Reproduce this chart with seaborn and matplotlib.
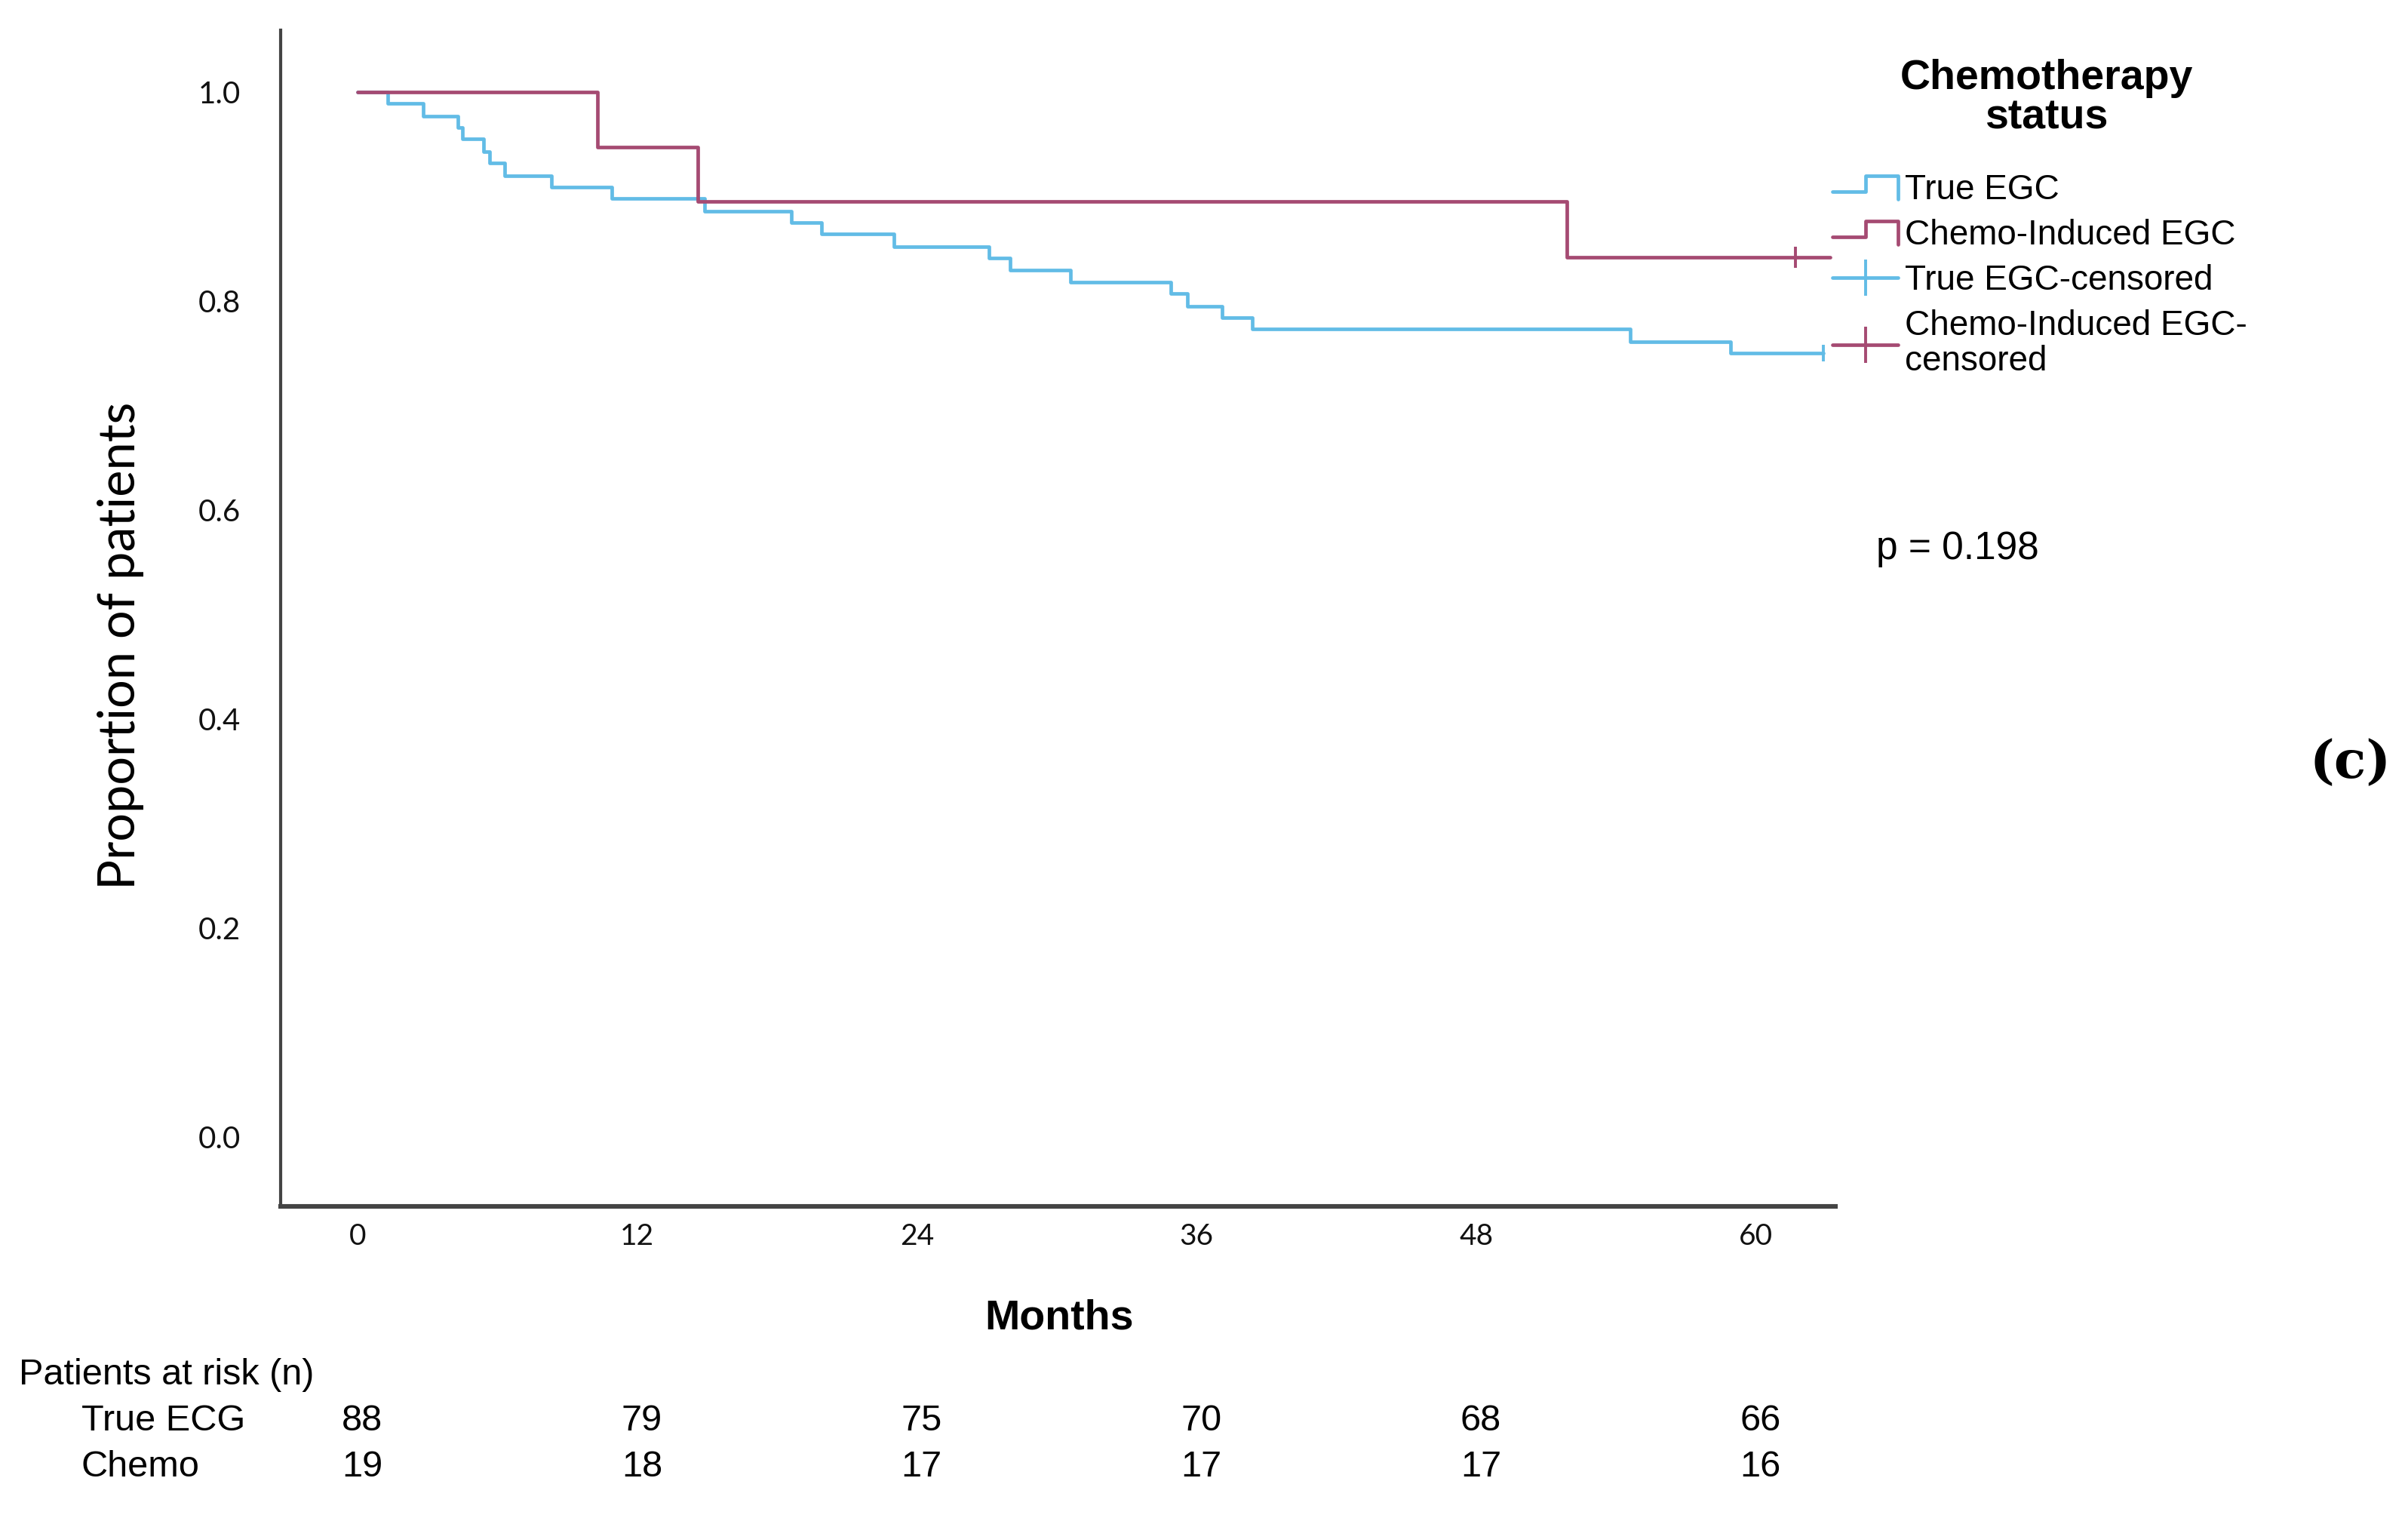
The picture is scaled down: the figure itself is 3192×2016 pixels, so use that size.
import numpy as np
import pandas as pd
import seaborn as sns
import matplotlib
matplotlib.use("Agg")
import matplotlib.pyplot as plt
from matplotlib.lines import Line2D
from matplotlib.legend_handler import HandlerBase
from matplotlib.transforms import blended_transform_factory

# Kaplan-Meier steps (months, proportion)
true_times = [0, 1.3, 2.8, 4.3, 4.5, 5.4, 5.65, 6.3, 8.3, 10.9, 14.9, 18.6,
              19.9, 23.0, 27.1, 28.0, 30.6, 34.9, 35.6, 37.1, 38.4, 54.6, 58.9, 62.9]
true_surv = [1.000, 0.989, 0.977, 0.966, 0.955, 0.943, 0.932, 0.920, 0.909, 0.898, 0.886, 0.875,
             0.864, 0.852, 0.841, 0.830, 0.818, 0.807, 0.795, 0.784, 0.773, 0.761, 0.750, 0.750]
chemo_times = [0, 10.3, 14.6, 51.9, 63.2]
chemo_surv = [1.000, 0.947, 0.895, 0.842, 0.842]

true_cens_t = [62.9]
true_cens_s = [0.750]
chemo_cens_t = [61.7]
chemo_cens_s = [0.842]

month_ticks = [0, 12, 24, 36, 48, 60]
y_ticks = [0.0, 0.2, 0.4, 0.6, 0.8, 1.0]
risk_true = [88, 79, 75, 70, 68, 66]
risk_chemo = [19, 18, 17, 17, 17, 16]

groups = ["True EGC", "Chemo-Induced EGC"]
blue = "#62bce6"
maroon = "#a54a72"

df = pd.concat([
    pd.DataFrame({"t": true_times, "s": true_surv, "g": groups[0]}),
    pd.DataFrame({"t": chemo_times, "s": chemo_surv, "g": groups[1]}),
])

sns.set_theme(style="white")
plt.rcParams["font.family"] = ["Liberation Sans", "DejaVu Sans"]
plt.rcParams["text.color"] = "black"
plt.rcParams["axes.labelcolor"] = "black"

fig = plt.figure(figsize=(15.96, 10.08), dpi=200)
ax = fig.add_axes([0.1166, 0.207, 0.7621 - 0.1166, 0.980 - 0.207])

sns.lineplot(data=df, x="t", y="s", hue="g", palette=[blue, maroon],
             estimator=None, sort=False, drawstyle="steps-post",
             linewidth=1.7, legend=False, ax=ax)
ax.plot(true_cens_t, true_cens_s, ls="none", marker="|", ms=8, mew=1.4, color=blue)
ax.plot(chemo_cens_t, chemo_cens_s, ls="none", marker="|", ms=10, mew=1.4, color=maroon)

ax.set_xlim(-3.3, 63.4)
ax.set_ylim(-0.066, 1.059)
ax.set_xticks(month_ticks)
ax.set_yticks(y_ticks)
ax.set_xticklabels([str(m) for m in month_ticks], fontfamily="Lato", fontsize=14)
ax.set_yticklabels([f"{v:.1f}" for v in y_ticks], fontfamily="Lato", fontsize=14.5)
ax.tick_params(axis="both", length=0, colors="#111111")
ax.tick_params(axis="y", pad=19)
ax.tick_params(axis="x", pad=8)
sns.despine(ax=ax)
ax.spines["left"].set_linewidth(1.5)
ax.spines["bottom"].set_linewidth(2.2)
ax.spines["left"].set_color("#444444")
ax.spines["bottom"].set_color("#444444")
ax.set_xlabel("")
ax.set_ylabel("Proportion of patients", fontfamily="Lato", fontsize=24, color="black")
ax.yaxis.set_label_coords(-0.088, 0.477)

fig.text(0.44, 0.133, "Months", fontsize=20, fontweight="bold", ha="center", va="center")
fig.text(0.779, 0.639, "p = 0.198", fontsize=18.5, ha="left", va="center")
fig.text(0.976, 0.498, "(c)", fontsize=25, fontweight="bold", family="DejaVu Serif",
         ha="center", va="center")

# patients at risk table
fig.text(0.0077, 0.096, "Patients at risk (n)", fontsize=17.5, ha="left", va="center")
fig.text(0.0338, 0.0657, "True ECG", fontsize=17.5, ha="left", va="center")
fig.text(0.0338, 0.0354, "Chemo", fontsize=17.5, ha="left", va="center")
tr = blended_transform_factory(ax.transData, fig.transFigure)
for m, a, b in zip(month_ticks, risk_true, risk_chemo):
    ax.text(m + 0.2, 0.0657, str(a), transform=tr, fontsize=17.5, ha="center", va="center", clip_on=False)
    ax.text(m + 0.2, 0.0354, str(b), transform=tr, fontsize=17.5, ha="center", va="center", clip_on=False)


class StepHandler(HandlerBase):
    def create_artists(self, legend, orig_handle, xdescent, ydescent,
                       width, height, fontsize, trans):
        x0, y0 = -xdescent, -ydescent
        xs = [x0, x0 + 0.5 * width, x0 + 0.5 * width, x0 + width, x0 + width]
        ys = [y0 + 0.3 * height, y0 + 0.3 * height, y0 + 0.95 * height,
              y0 + 0.95 * height, y0 + 0.0 * height]
        return [Line2D(xs, ys, color=orig_handle.get_color(),
                       lw=orig_handle.get_linewidth(), transform=trans)]


# legend title drawn separately so the gap below it matches
fig.text(0.850, 0.9354, "Chemotherapy\nstatus", fontsize=20, fontweight="bold",
         ha="center", va="center", multialignment="center", linespacing=1.0)

h_true = Line2D([], [], color=blue, lw=1.7)
h_chemo = Line2D([], [], color=maroon, lw=1.7)
h_true_c = Line2D([], [], color=blue, lw=1.7, marker="|", ms=17, mew=1.4)
h_chemo_c = Line2D([], [], color=maroon, lw=1.7, marker="|", ms=17, mew=1.4)
leg = fig.legend([h_true, h_chemo, h_true_c, h_chemo_c],
                 ["True EGC", "Chemo-Induced EGC", "True EGC-censored", "Chemo-Induced EGC-\ncensored"],
                 handler_map={h_true: StepHandler(), h_chemo: StepHandler()},
                 loc="upper left", bbox_to_anchor=(0.761, 0.886), frameon=False,
                 fontsize=16.5, handlelength=1.9,
                 handletextpad=0.2, labelspacing=0.35, borderpad=0, borderaxespad=0,
                 numpoints=1)
for t in leg.get_texts():
    t.set_linespacing(1.1)

fig.savefig("out.png", dpi=200)
